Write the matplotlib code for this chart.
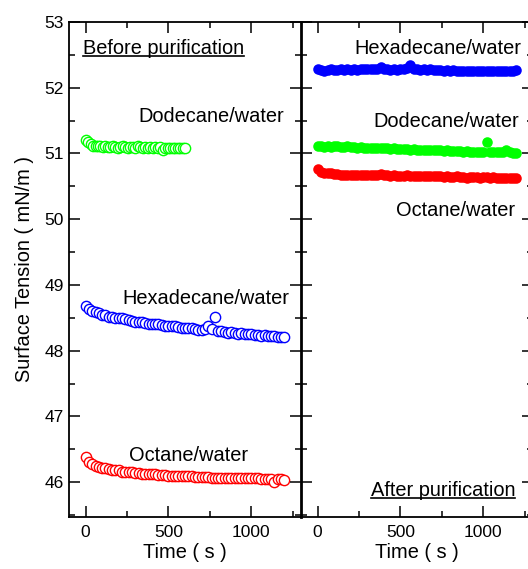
import numpy as np
import matplotlib
matplotlib.use('Agg')
import matplotlib.pyplot as plt
from matplotlib.ticker import MultipleLocator
from matplotlib.lines import Line2D

plt.rcParams['font.family'] = ['Liberation Sans', 'DejaVu Sans']

# before purification (open circles)
t_dod_before = np.arange(0, 601, 15)
dod_before = [51.20, 51.17, 51.14, 51.12, 51.11, 51.11, 51.12, 51.10, 51.11, 51.10,
              51.10, 51.11, 51.10, 51.09, 51.10, 51.11, 51.10, 51.09, 51.10, 51.10,
              51.09, 51.11, 51.10, 51.09, 51.10, 51.08, 51.10, 51.09, 51.10, 51.09,
              51.10, 51.05, 51.08, 51.09, 51.08, 51.09, 51.08, 51.09, 51.08, 51.09,
              51.08]

t_before = np.arange(0, 1201, 20)
hex_before = [48.68, 48.64, 48.61, 48.59, 48.57, 48.55, 48.54, 48.52, 48.51, 48.50,
              48.49, 48.50, 48.48, 48.46, 48.45, 48.44, 48.44, 48.43, 48.42, 48.41,
              48.41, 48.40, 48.40, 48.39, 48.38, 48.38, 48.37, 48.37, 48.36, 48.35,
              48.35, 48.34, 48.34, 48.33, 48.32, 48.31, 48.33, 48.37, 48.33, 48.52,
              48.30, 48.30, 48.28, 48.27, 48.28, 48.27, 48.26, 48.27, 48.25, 48.26,
              48.25, 48.24, 48.24, 48.23, 48.24, 48.22, 48.22, 48.23, 48.21, 48.21,
              48.21]
oct_before = [46.38, 46.30, 46.27, 46.25, 46.23, 46.22, 46.21, 46.20, 46.19, 46.18,
              46.18, 46.16, 46.16, 46.15, 46.15, 46.14, 46.14, 46.13, 46.13, 46.12,
              46.12, 46.12, 46.11, 46.11, 46.11, 46.10, 46.10, 46.10, 46.10, 46.09,
              46.09, 46.09, 46.09, 46.08, 46.08, 46.08, 46.08, 46.08, 46.07, 46.07,
              46.07, 46.07, 46.07, 46.07, 46.06, 46.06, 46.06, 46.06, 46.06, 46.06,
              46.06, 46.06, 46.06, 46.05, 46.05, 46.05, 46.05, 46.00, 46.05, 46.05,
              46.04]

# after purification (filled circles)
t_after = np.arange(0, 1201, 20)
hex_after = [52.28, 52.27, 52.26, 52.27, 52.28, 52.27, 52.27, 52.28, 52.27, 52.28,
             52.27, 52.28, 52.27, 52.28, 52.28, 52.29, 52.28, 52.29, 52.28, 52.32,
             52.28, 52.28, 52.27, 52.28, 52.27, 52.28, 52.28, 52.30, 52.35, 52.29,
             52.28, 52.27, 52.28, 52.27, 52.28, 52.27, 52.27, 52.27, 52.26, 52.27,
             52.26, 52.27, 52.26, 52.26, 52.25, 52.26, 52.25, 52.26, 52.25, 52.26,
             52.25, 52.26, 52.25, 52.26, 52.25, 52.25, 52.26, 52.25, 52.25, 52.26,
             52.27]
dod_after = [51.11, 51.11, 51.10, 51.11, 51.10, 51.11, 51.11, 51.10, 51.10, 51.11,
             51.10, 51.10, 51.09, 51.10, 51.09, 51.09, 51.09, 51.08, 51.09, 51.08,
             51.08, 51.08, 51.07, 51.08, 51.07, 51.07, 51.07, 51.07, 51.06, 51.07,
             51.06, 51.06, 51.06, 51.05, 51.06, 51.05, 51.05, 51.05, 51.04, 51.05,
             51.04, 51.04, 51.04, 51.04, 51.03, 51.04, 51.03, 51.03, 51.03, 51.03,
             51.03, 51.17, 51.03, 51.02, 51.02, 51.02, 51.03, 51.06, 51.03, 51.01,
             51.01]
oct_after = [50.77, 50.72, 50.70, 50.71, 50.70, 50.69, 50.69, 50.68, 50.68, 50.68,
             50.67, 50.67, 50.67, 50.67, 50.68, 50.67, 50.67, 50.68, 50.67, 50.69,
             50.68, 50.67, 50.66, 50.67, 50.66, 50.66, 50.66, 50.67, 50.66, 50.66,
             50.65, 50.66, 50.65, 50.65, 50.66, 50.65, 50.65, 50.65, 50.64, 50.65,
             50.64, 50.64, 50.65, 50.64, 50.64, 50.62, 50.64, 50.64, 50.64, 50.63,
             50.64, 50.64, 50.63, 50.64, 50.63, 50.63, 50.63, 50.63, 50.63, 50.63,
             50.63]

GREEN, BLUE, RED = '#00ff00', '#0000ff', '#ff0000'

fig = plt.figure(figsize=(5.28, 5.69), dpi=100)
ax1 = fig.add_axes([69/528, 52/569, 232/528, 495/569])
ax2 = fig.add_axes([301/528, 52/569, 232/528, 495/569])

ms_open = 7.4
ax1.plot(t_dod_before, dod_before, 'o', mfc='white', mec=GREEN, ms=ms_open, mew=1.0, ls='none')
ax1.plot(t_before, hex_before, 'o', mfc='white', mec=BLUE, ms=ms_open, mew=1.0, ls='none')
ax1.plot(t_before, oct_before, 'o', mfc='white', mec=RED, ms=ms_open, mew=1.0, ls='none')

ms_fill = 7.6
ax2.plot(t_after, hex_after, 'o', color=BLUE, ms=ms_fill, mew=0, ls='none')
ax2.plot(t_after, dod_after, 'o', color=GREEN, ms=ms_fill, mew=0, ls='none')
ax2.plot(t_after, oct_after, 'o', color=RED, ms=ms_fill, mew=0, ls='none')

for ax in (ax1, ax2):
    ax.set_xlim(-100, 1300)
    ax.set_ylim(45.47, 53)
    ax.xaxis.set_major_locator(MultipleLocator(500))
    ax.xaxis.set_minor_locator(MultipleLocator(250))
    ax.yaxis.set_major_locator(MultipleLocator(1))
    ax.yaxis.set_minor_locator(MultipleLocator(0.5))
    ax.tick_params(which='both', direction='in', top=True, right=True, width=1.1, labelsize=12.5)
    ax.tick_params(which='major', length=8)
    ax.tick_params(which='minor', length=4)
    ax.tick_params(axis='x', pad=6)
    for s in ax.spines.values():
        s.set_linewidth(1.3)
    ax.set_xlabel('Time ( s )', fontsize=14.4, labelpad=2)

ax1.set_xticks([0, 500, 1000])
ax2.set_xticks([0, 500, 1000])
ax2.tick_params(axis='y', which='both', left=True, labelleft=False, direction='inout')
ax2.tick_params(axis='y', which='major', length=16)
ax2.tick_params(axis='y', which='minor', length=8)
ax2.spines['left'].set_linewidth(2.0)
ax1.spines['right'].set_visible(False)
ax1.tick_params(axis='y', which='both', right=False)
ax1.set_ylabel('Surface Tension ( mN/m )', fontsize=14.4, labelpad=8)

fs = 14.4
ax1.text(1200, 51.57, 'Dodecane/water', ha='right', va='center', fontsize=fs)
ax1.text(1230, 48.8, 'Hexadecane/water', ha='right', va='center', fontsize=fs)
ax1.text(620, 46.41, 'Octane/water', ha='center', va='center', fontsize=fs)
ax2.text(1229, 52.59, 'Hexadecane/water', ha='right', va='center', fontsize=fs)
ax2.text(1217, 51.49, 'Dodecane/water', ha='right', va='center', fontsize=fs)
ax2.text(1193, 50.14, 'Octane/water', ha='right', va='center', fontsize=fs)

before = ax1.text(-18, 52.6, 'Before purification', ha='left', va='center', fontsize=fs)
after = ax2.text(1193, 45.88, 'After purification', ha='right', va='center', fontsize=fs)

fig.canvas.draw()
r = fig.canvas.get_renderer()
for t in (before, after):
    bb = t.get_window_extent(r).transformed(fig.transFigure.inverted())
    y = bb.y0 + 0.1 * bb.height
    fig.add_artist(Line2D([bb.x0, bb.x1], [y, y], color='black', lw=1.2, transform=fig.transFigure))

fig.savefig('out.png', dpi=100)
